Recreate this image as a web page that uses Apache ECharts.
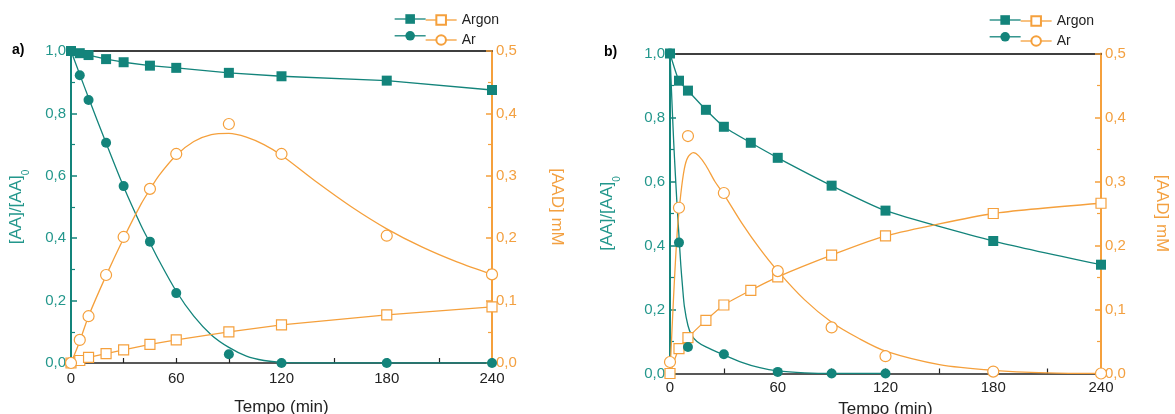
<!DOCTYPE html>
<html><head><meta charset="utf-8">
<script src="https://cdn.jsdelivr.net/npm/echarts@6/dist/echarts.min.js"></script>
<style>html,body{margin:0;padding:0;background:#fff}#c{width:1175px;height:414px}</style>
</head><body><div id="c"></div>
<script>
// ---------- data ----------
const xTicks = [0, 60, 120, 180, 240];
const timesAll = [0, 5, 10, 20, 30, 45, 60, 90, 120, 180, 240];
// panel a)
const aArgonAA  = [1.0, 0.993, 0.987, 0.974, 0.964, 0.953, 0.946, 0.930, 0.919, 0.905, 0.875];
const aArAA     = [1.0, 0.922, 0.843, 0.706, 0.567, 0.389, 0.224, 0.028, 0.0, 0.0, 0.0];
const aArgonAAD = [0.0, 0.004, 0.009, 0.015, 0.021, 0.030, 0.037, 0.050, 0.061, 0.077, 0.090];
const aArAAD    = [0.0, 0.037, 0.075, 0.141, 0.202, 0.279, 0.335, 0.383, 0.335, 0.204, 0.142];
const aFitArAATime  = [0, 5, 10, 20, 30, 40, 45, 50, 60, 70, 80, 90, 100, 110, 120, 135, 240];
const aFitArAA      = [1.0, 0.925, 0.85, 0.705, 0.565, 0.44, 0.385, 0.33, 0.23, 0.15, 0.09, 0.05, 0.022, 0.008, 0.002, 0.0, 0.0];
const aFitArAADTime = [0, 5, 10, 20, 30, 40, 45, 50, 60, 70, 80, 90, 100, 110, 120, 140, 160, 180, 200, 220, 240];
const aFitArAAD     = [0.0, 0.035, 0.075, 0.14, 0.2, 0.255, 0.278, 0.3, 0.333, 0.355, 0.366, 0.368, 0.362, 0.35, 0.333, 0.29, 0.25, 0.215, 0.186, 0.162, 0.142];
// panel b)
const bArgonAA  = [1.0, 0.915, 0.884, 0.824, 0.771, 0.721, 0.674, 0.587, 0.509, 0.414, 0.340];
const bArgonAAD = [0.0, 0.039, 0.056, 0.083, 0.107, 0.130, 0.151, 0.185, 0.215, 0.250, 0.266];
const bArAATime  = [0, 5, 10, 30, 60, 90, 120];
const bArAA      = [1.0, 0.409, 0.083, 0.060, 0.005, 0.0, 0.0];
const bArAADTime = [0, 5, 10, 30, 60, 90, 120, 180, 240];
const bArAAD     = [0.018, 0.259, 0.371, 0.282, 0.160, 0.072, 0.027, 0.003, 0.0];
const bFitArAATime  = [0, 1, 2, 3, 4, 5, 6, 7, 8, 10, 12, 15, 20, 30, 40, 50, 60, 75, 90, 120];
const bFitArAA      = [1.0, 0.86, 0.73, 0.62, 0.52, 0.43, 0.34, 0.27, 0.21, 0.15, 0.12, 0.10, 0.083, 0.058, 0.035, 0.018, 0.008, 0.002, 0.0, 0.0];
const bFitArAADTime = [0, 2, 4, 6, 8, 10, 13, 16, 20, 25, 30, 40, 50, 60, 75, 90, 105, 120, 150, 180, 210, 240];
const bFitArAAD     = [0.0, 0.12, 0.22, 0.28, 0.32, 0.338, 0.345, 0.34, 0.325, 0.30, 0.28, 0.235, 0.195, 0.16, 0.115, 0.08, 0.055, 0.035, 0.014, 0.005, 0.001, 0.0];
const legendNames = ['Argon', 'Ar'];

// ---------- styling ----------
const TEAL = '#13847b', TEAL_TXT = '#23978c', ORANGE = '#f5a03c', ORANGE_TXT = '#f3a040', INK = '#222';
const FONT = '"Liberation Sans", Arial, sans-serif';
const zip = (xs, ys) => xs.map((x, i) => [x, ys[i]]);
const comma = v => v.toFixed(1).replace('.', ',');

function panel(i, g) {
  const xi = i * 2, yi = i * 2;
  const p = ['a', 'b'][i];
  const xAxes = [
    { gridIndex: i, type: 'value', min: 0, max: 240, interval: 60, position: 'bottom',
      name: 'Tempo (min)', nameLocation: 'middle', nameGap: g.nameGapX,
      nameTextStyle: { fontFamily: FONT, fontSize: 17, color: INK },
      axisLine: { onZero: false, lineStyle: { color: INK, width: 1.5 } },
      axisTick: { inside: true, length: 5, lineStyle: { color: INK, width: 1.2 } },
      minorTick: { show: true, splitNumber: 2, length: 5, lineStyle: { color: INK, width: 1.2 } },
      axisLabel: { fontFamily: FONT, fontSize: 15, color: INK, margin: g.xLabelMargin },
      splitLine: { show: false } },
    { gridIndex: i, type: 'value', min: 0, max: 240, position: 'top',
      axisLine: { onZero: false, lineStyle: { color: '#000', width: 1.5 } },
      axisTick: { show: false }, axisLabel: { show: false }, splitLine: { show: false } }
  ];
  const yAxes = [
    { gridIndex: i, type: 'value', min: 0, max: 1, interval: 0.2, position: 'left',
      name: '{m|[AA]/[AA]}{s|0}', nameLocation: 'middle', nameGap: g.nameGapL,
      nameTextStyle: { fontFamily: FONT, color: TEAL_TXT,
        rich: { m: { fontFamily: FONT, fontSize: 17, color: TEAL_TXT, lineHeight: 22 },
                s: { fontFamily: FONT, fontSize: 10, color: TEAL_TXT, lineHeight: 22, verticalAlign: 'bottom', padding: [0, 0, -4, 0] } } },
      axisLine: { onZero: false, lineStyle: { color: TEAL, width: 2 } },
      axisTick: { inside: true, length: 6, lineStyle: { color: TEAL, width: 1.5 } },
      minorTick: { show: true, splitNumber: 2, length: 4, lineStyle: { color: TEAL, width: 1.2 } },
      axisLabel: { fontFamily: FONT, fontSize: 15, color: TEAL_TXT, margin: 5, formatter: comma },
      splitLine: { show: false } },
    { gridIndex: i, type: 'value', min: 0, max: 0.5, interval: 0.1, position: 'right',
      name: '[AAD] mM', nameLocation: 'middle', nameGap: g.nameGapR, nameRotate: -90,
      nameTextStyle: { fontFamily: FONT, fontSize: 17, color: ORANGE_TXT },
      axisLine: { onZero: false, lineStyle: { color: ORANGE, width: 2 } },
      axisTick: { inside: true, length: 6, lineStyle: { color: ORANGE, width: 1.5 } },
      minorTick: { show: true, splitNumber: 2, length: 4, lineStyle: { color: ORANGE, width: 1.2 } },
      axisLabel: { fontFamily: FONT, fontSize: 15, color: ORANGE_TXT, margin: 4, formatter: comma },
      splitLine: { show: false } }
  ];
  const base = { type: 'line', xAxisIndex: xi, yAxisIndex: yi };
  const markerLine = (name, yOff, data, symbol, size, color, filled, showLine, smooth) => Object.assign({}, base, {
    name: p + ' ' + name, yAxisIndex: yi + yOff, data, symbol, symbolSize: size, z: 5,
    smooth: smooth,
    itemStyle: filled ? { color: color, borderColor: color, borderWidth: 0 }
                      : { color: '#fff', borderColor: color, borderWidth: 1.2 },
    lineStyle: { color: color, width: 1.3, opacity: showLine ? 1 : 0 },
    emphasis: { disabled: true }, animation: false
  });
  const fit = (name, yOff, data, color) => Object.assign({}, base, {
    name: p + ' fit ' + name, yAxisIndex: yi + yOff, data, symbol: 'none', z: 3,
    smooth: 0.3,
    lineStyle: { color: color, width: 1.3 }, emphasis: { disabled: true }, animation: false
  });
  return { xAxes, yAxes, base, markerLine, fit, p };
}

const geo = [
  { left: 71, top: 51, width: 421, height: 312, nameGapX: 36, xLabelMargin: 8, nameGapL: 44, nameGapR: 56,
    legendLeft: 394, legendTop: 13, tagLeft: 12, tagTop: 43 },
  { left: 670, top: 53.5, width: 431, height: 320, nameGapX: 26, xLabelMargin: 7, nameGapL: 52, nameGapR: 52,
    legendLeft: 989, legendTop: 14, tagLeft: 604, tagTop: 45 }
];

const P = geo.map((g, i) => panel(i, g));
const series = [];
// panel a
{
  const m = P[0].markerLine, f = P[0].fit;
  series.push(f('AA Ar', 0, zip(aFitArAATime, aFitArAA), TEAL));
  series.push(f('AAD Ar', 1, zip(aFitArAADTime, aFitArAAD), ORANGE));
  series.push(m('AA Argon', 0, zip(timesAll, aArgonAA), 'rect', 10, TEAL, true, true, 0));
  series.push(m('AAD Argon', 1, zip(timesAll, aArgonAAD), 'rect', 10, ORANGE, false, true, 0));
  series.push(m('AAD Ar', 1, zip(timesAll, aArAAD), 'circle', 11, ORANGE, false, false, 0));
  series.push(m('AA Ar', 0, zip(timesAll, aArAA), 'circle', 10, TEAL, true, false, 0));
}
// panel b
{
  const m = P[1].markerLine, f = P[1].fit;
  series.push(f('AA Ar', 0, zip(bFitArAATime, bFitArAA), TEAL));
  series.push(f('AAD Ar', 1, zip(bFitArAADTime, bFitArAAD), ORANGE));
  series.push(m('AA Argon', 0, zip(timesAll, bArgonAA), 'rect', 10, TEAL, true, true, 0.2));
  series.push(m('AAD Argon', 1, zip(timesAll, bArgonAAD), 'rect', 10, ORANGE, false, true, 0.2));
  series.push(m('AAD Ar', 1, zip(bArAADTime, bArAAD), 'circle', 11, ORANGE, false, false, 0));
  series.push(m('AA Ar', 0, zip(bArAATime, bArAA), 'circle', 10, TEAL, true, false, 0));
}

const legends = [];
geo.forEach((g, i) => {
  const p = P[i].p;
  legends.push({
    orient: 'vertical', left: g.legendLeft, top: g.legendTop, itemWidth: 31, itemHeight: 12, itemGap: 6,
    padding: 0, selectedMode: false, formatter: () => '',
    lineStyle: { opacity: 1, width: 1.3 },
    data: legendNames.map(n => p + ' AA ' + n)
  });
  legends.push({
    orient: 'vertical', left: g.legendLeft + 31, top: g.legendTop, itemWidth: 31, itemHeight: 12, itemGap: 6,
    padding: 0, selectedMode: false,
    formatter: name => name.split(' ').slice(2).join(' '),
    textStyle: { fontFamily: FONT, fontSize: 14, color: INK, padding: [0, 0, 0, 0] },
    lineStyle: { opacity: 1, width: 1.3 },
    data: legendNames.map(n => p + ' AAD ' + n)
  });
});

const option = {
  backgroundColor: '#fff',
  animation: false,
  textStyle: { fontFamily: FONT },
  title: geo.map((g, i) => ({ text: ['a)', 'b)'][i], left: g.tagLeft, top: g.tagTop, padding: 0,
    textStyle: { fontFamily: FONT, fontSize: 14, fontWeight: 'bold', color: '#000' } })),
  grid: geo.map(g => ({ left: g.left, top: g.top, width: g.width, height: g.height, containLabel: false, outerBoundsMode: 'none' })),
  legend: legends,
  xAxis: P.flatMap(p => p.xAxes),
  yAxis: P.flatMap(p => p.yAxes),
  series: series
};
const chart = echarts.init(document.getElementById('c'), null, { renderer: 'canvas' });
chart.setOption(option);
</script>
</body></html>
